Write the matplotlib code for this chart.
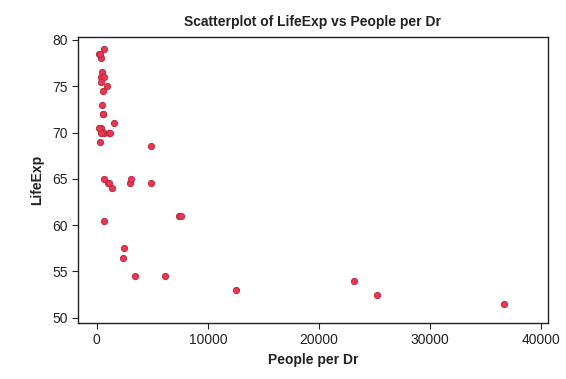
import matplotlib.pyplot as plt

plt.rcParams['font.family'] = ['Liberation Sans', 'DejaVu Sans']

# People per doctor and life expectancy, one entry per country
people_per_dr = [370, 6166, 684, 449, 643, 1551, 616, 36660, 403, 346,
                 2471, 7427, 2992, 233, 609, 7615, 370, 1066, 600, 4873,
                 3485, 2364, 1016, 1062, 480, 559, 259, 1340, 275, 12550,
                 965, 25229, 4883, 1189, 226, 611, 404, 576, 3096, 23193]
life_exp = [70.5, 54.5, 65, 76.5, 70, 71, 60.5, 51.5, 78, 76,
            57.5, 61, 64.5, 78.5, 79, 61, 70, 70, 72, 64.5,
            54.5, 56.5, 64.5, 64.5, 73, 72, 69, 64, 78.5, 53,
            75, 52.5, 68.5, 70, 70.5, 76, 75.5, 74.5, 65, 54]

fig = plt.figure(figsize=(5.66, 3.79), dpi=100)
ax = fig.add_axes([0.138, 0.148, 0.83, 0.754])

ax.scatter(people_per_dr, life_exp, s=20, color='#ea3752', edgecolor='#c02840',
           linewidth=0.7, zorder=3)

ax.set_xlim(-1680, 40600)
ax.set_ylim(49.45, 80.3)
ax.set_xticks([0, 10000, 20000, 30000, 40000])
ax.set_yticks([50, 55, 60, 65, 70, 75, 80])
ax.tick_params(direction='out', length=4, labelsize=10, colors='#222222', top=False, right=False)
for sp in ax.spines.values():
    sp.set_color('#222222')
    sp.set_linewidth(1.0)

ax.set_title('Scatterplot of LifeExp vs People per Dr', fontsize=10, fontweight='bold',
             color='#222222', pad=8)
ax.set_xlabel('People per Dr', fontsize=10, fontweight='bold', color='#222222', labelpad=4)
ax.set_ylabel('LifeExp', fontsize=10, fontweight='bold', color='#222222', labelpad=6)

fig.savefig('out.png', dpi=100)
